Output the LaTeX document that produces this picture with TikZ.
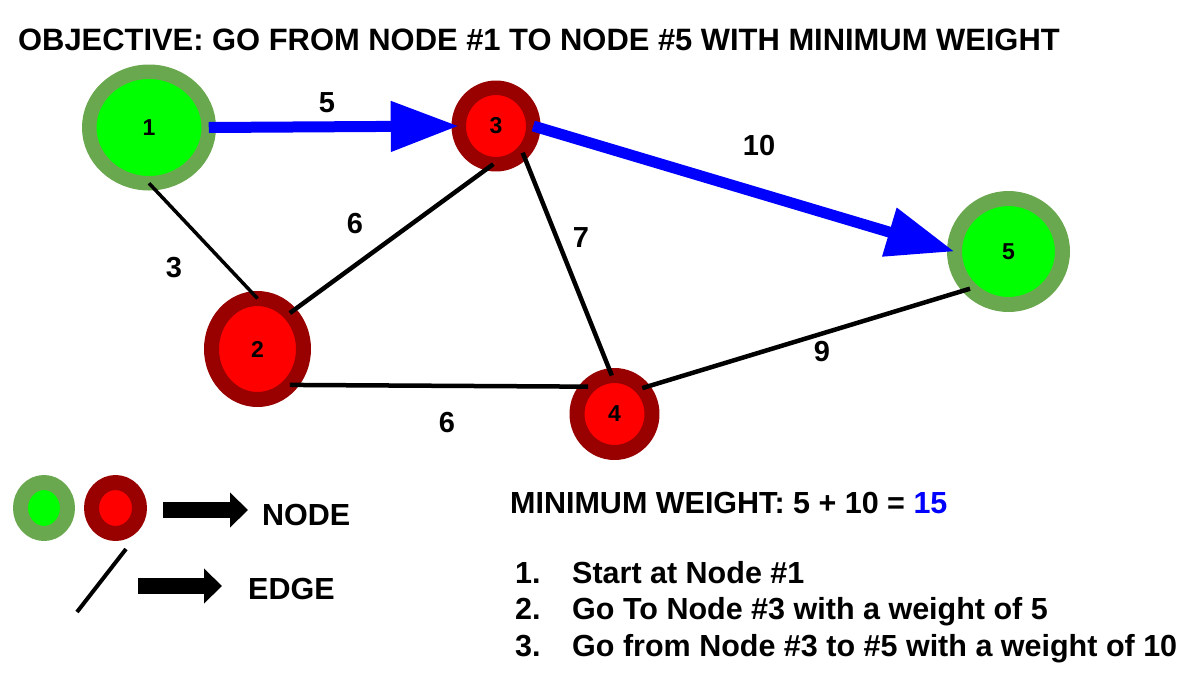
\documentclass[tikz,border=0pt]{standalone}
\usepackage{fontspec}
\setmainfont{Liberation Sans}
\usetikzlibrary{shapes.geometric,arrows.meta}
\definecolor{ringG}{RGB}{106,168,79}
\definecolor{fillG}{RGB}{0,255,0}
\definecolor{ringR}{RGB}{153,0,0}
\definecolor{fillR}{RGB}{255,0,0}
\definecolor{pathB}{RGB}{0,0,255}
\tikzset{
	vtx/.style={ellipse,inner sep=0pt,outer sep=0pt,line width=15pt,font=\fontsize{23}{23}\selectfont\bfseries},
	vtxG/.style={vtx,draw=ringG,fill=fillG},
	vtxR/.style={vtx,draw=ringR,fill=fillR},
	edgeline/.style={line width=4.5pt},
	bestpath/.style={pathB,line width=11pt,-{Triangle[length=68pt,width=48pt]}},
	weight/.style={inner sep=0pt,font=\fontsize{29}{29}\selectfont\bfseries},
	txt/.style={inner sep=0pt,anchor=base west,font=\fontsize{30.5}{36}\selectfont\bfseries},
	legarrow/.style={line width=16pt,-{Triangle[length=18pt,width=34pt]}}
}
\begin{document}
\begin{tikzpicture}[x=1pt,y=-1pt,line join=round]
		\useasboundingbox (0,0) rectangle (1192,678);
		%==Nodes of the graph
		\node[vtxG,minimum width=119.5pt,minimum height=111.5pt,line width=14.5pt] (n1) at (149,127.5) {1};
		\node[vtxR,minimum width=92pt,minimum height=101pt] (n2) at (257.5,349) {2};
		\node[vtxR,minimum width=74.5pt,minimum height=76.5pt,line width=14.5pt] (n3) at (496,126) {3};
		\node[vtxR,minimum width=75pt,minimum height=77pt] (n4) at (614.5,414) {4};
		\node[vtxG,minimum width=108pt,minimum height=106pt] (n5) at (1008.5,251.5) {5};
		%==Edges
		\draw[edgeline,line width=3.5pt] (n1.south)--(n2.north);
		\draw[edgeline] (n2.48)--(n3.-94);
		\draw[edgeline] (n3.-45.5)--(n4.94);
		\draw[edgeline] (n2.-48)--(n4.134.5);
		\draw[edgeline] (n4.43.5)--(n5.-136.5);
		\draw[bestpath] (n1.east)--(n3.west);
		\draw[bestpath] (n3.east)--(n5.west);
		%==Weights
		\node[weight] (w13) at (327,102.5) {5};
		\node[weight] (w35) at (759,146) {10};
		\node[weight] (w12) at (174,268) {3};
		\node[weight] (w23) at (355,224) {6};
		\node[weight] (w34) at (581,238) {7};
		\node[weight] (w45) at (822,352) {9};
		\node[weight] (w24) at (447,423) {6};
		%==Texts
		\node[txt,font=\fontsize{30.9}{36}\selectfont\bfseries] (title) at (18,50) {OBJECTIVE: GO FROM NODE \#1 TO NODE \#5 WITH MINIMUM WEIGHT};
		\node[txt] (minw) at (510,513) {MINIMUM WEIGHT: 5 + 10 = \textcolor{pathB}{15}};
		\foreach \i/\t in {1/Start at Node \#1,2/Go To Node \#3 with a weight of 5,3/Go from Node \#3 to \#5 with a weight of 10}{
			\node[txt] (num\i) at (515,{583+36.5*(\i-1)}) {\i.};
			\node[txt] (step\i) at (572,{583+36.5*(\i-1)}) {\t};
		}
		%==Legend
		\node[vtxG,minimum width=47pt,minimum height=51pt] (lgG) at (44,508) {};
		\node[vtxR,minimum width=48pt,minimum height=51pt] (lgR) at (115.5,508) {};
		\node[txt] (lgnode) at (262,525) {NODE};
		\node[txt] (lgedge) at (248,599) {EDGE};
		\coordinate (le1) at (126,549);
		\coordinate (le2) at (77,612);
		\draw[edgeline,line width=4pt] (le1)--(le2);
		\coordinate (a1) at (163,510);
		\coordinate (a2) at (138,586);
		\draw[legarrow,shorten >=14pt] (a1)--(a1 -| lgnode.west);
		\draw[legarrow,shorten >=26pt] (a2)--(a2 -| lgedge.west);
\end{tikzpicture}
\end{document}
